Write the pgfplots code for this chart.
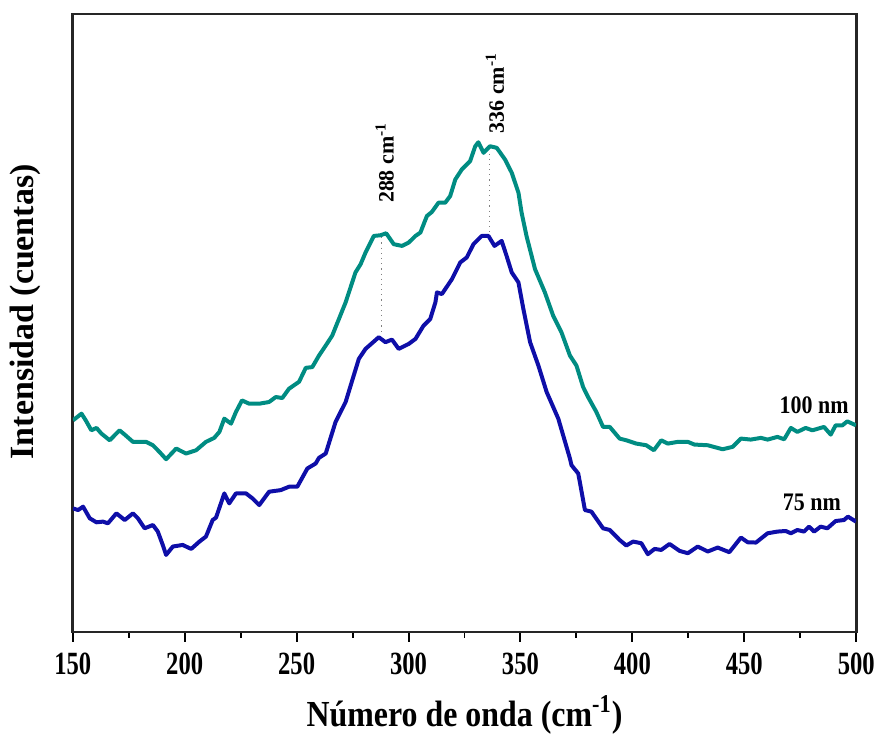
\documentclass[border=0pt]{standalone}
\usepackage{pgfplots}
\pgfplotsset{compat=1.18}
\usepackage{fontspec}
\setmainfont{Liberation Serif}
\definecolor{tealc}{RGB}{0,140,130}
\definecolor{bluec}{RGB}{14,14,168}
\begin{document}
\begin{tikzpicture}
\begin{axis}[
  scale only axis, width=393pt, height=310pt,
  xmin=150, xmax=500, ymin=-2, ymax=618,
  axis line style={line width=1.3pt, black!85},
  xtick={150,200,...,500}, minor x tick num=1,
  xtick pos=bottom, tick align=outside,
  major tick length=5pt, minor tick length=3pt,
  every tick/.style={black, line width=1pt},
  ytick=\empty,
  /pgf/number format/assume math mode=true,
  xticklabel style={font=\fontsize{13}{15}\selectfont\bfseries, yscale=1.25, xscale=0.95, yshift=-1pt},
  xlabel={N\'umero de onda (cm\textsuperscript{-1})},
  ylabel={Intensidad (cuentas)},
  xlabel style={font=\fontsize{16}{18}\selectfont\bfseries, yscale=1.15, at={(axis description cs:0.5,-0.134)}, anchor=center},
  ylabel style={font=\fontsize{17}{19}\selectfont\bfseries, at={(axis description cs:-0.06,0.518)}, anchor=center, rotate=0},
  clip=true,
]
\addplot[tealc, line width=2pt, line join=round] coordinates {
(150.1,210.3)(153.9,217)(155.8,210.3)(158.3,200.3)(160.6,202.7)(162.8,197)(166.5,190.3)(170.9,200.3)(173.2,196)(176.9,188.7)(182.8,188.7)(185.8,185.3)(188.7,178.7)(191.7,171.3)(196.2,182)(200.6,177)(205.1,180.3)(209.5,188.7)(213.2,192.7)(215.5,198.7)(217.7,212)(220.7,207)(222.9,218.7)(225.6,230.3)(228.8,227)(233.3,227)(237.7,228.7)(240.7,233.7)(243.6,232.7)(246.6,242)(251.1,249)(254.1,263)(257.0,263.7)(260.0,275.3)(263.0,285.3)(265.9,295.3)(271.9,328.7)(276.3,358.7)(278.6,367)(280.8,378.7)(284.5,395.3)(287.5,396)(290.0,398)(293.4,387)(297.1,385.3)(300.1,388.7)(303.1,395.3)(305.3,398.7)(308.2,415.3)(310.4,419.3)(313.4,428.7)(316.4,428.7)(318.6,435.3)(320.9,452)(323.8,462)(327.5,470.3)(329.8,485.3)(331.2,489.3)(333.5,478.7)(336.4,485.3)(339.4,483.7)(343.1,472)(346.1,458.7)(349.1,438.7)(350.5,418.7)(352.7,395.3)(356.5,362)(360.9,338.7)(364.6,315.3)(368.3,298.7)(372.1,275.3)(375.0,265.3)(378.0,243.7)(380.2,233.7)(383.9,218.7)(386.9,203.7)(389.9,203.7)(394.3,192)(397.3,190.3)(401.7,187)(406.2,185.3)(409.6,180.3)(412.9,190.3)(415.8,187)(420.3,188.7)(424.8,188.7)(427.7,186)(433.7,185.3)(440.3,181.3)(444.8,183.7)(448.5,192)(452.9,191)(457.4,192.7)(460.4,191)(464.8,193.7)(467.8,191.3)(470.8,202.7)(473.7,198.7)(477.4,202.7)(480.4,200.3)(485.6,203.7)(488.6,196)(490.8,205.3)(493.8,205.3)(496.0,209.3)(499.9,205.3)
};
\addplot[bluec, line width=2pt, line join=round] coordinates {
(150.1,122)(152.4,120.3)(154.6,123.7)(157.6,112)(160.6,108)(163.5,108.7)(165.7,107)(169.5,117)(173.2,110.3)(176.9,117)(179.1,112)(182.1,102)(185.8,105.3)(188.0,98.7)(190.2,85.3)(191.7,75.3)(194.7,83.7)(199.1,85.3)(202.9,81.3)(206.6,88.7)(209.5,93.7)(212.5,110.3)(214.0,112.7)(217.7,137)(219.9,127)(222.9,137)(227.4,137)(230.3,132)(233.3,125.3)(237.7,138.7)(242.9,140.3)(246.6,143.7)(250.3,143.7)(254.8,162)(258.5,167)(260.0,172.7)(263.0,177)(267.4,208.7)(271.9,228.7)(275.2,253)(277.8,272)(280.8,282)(286.7,293.7)(289.7,288.7)(292.6,291.3)(295.6,282)(300.1,287)(303.1,292)(306.7,305.3)(309.7,312)(312.0,328.7)(312.7,338.7)(314.9,337)(317.9,347)(319.4,352)(323.1,368.7)(326.0,373.7)(329.0,387)(332.7,395.3)(335.7,395.3)(338.4,385.3)(341.6,390.3)(343.8,375.3)(346.1,358.7)(349.1,348.7)(351.3,322)(354.3,288.7)(358.0,265.3)(361.7,238.7)(366.9,212)(372.1,172)(372.8,165.3)(375.8,157)(376.5,148.7)(378.8,120.3)(381.7,118.7)(386.9,102)(389.9,100.3)(394.3,90.3)(397.3,84.7)(400.3,88.7)(404.0,87)(406.9,76)(409.9,81.3)(412.9,80.3)(416.6,86.3)(421.1,79.3)(424.8,77)(429.2,83.7)(433.7,78.7)(438.1,82.7)(443.3,78)(448.5,92.7)(451.5,88)(455.2,87.7)(460.4,97)(464.8,98.7)(468.5,99.3)(470.8,97)(473.7,100.3)(476.7,98.7)(478.9,103.7)(481.2,98.7)(484.1,103.7)(487.1,102)(490.8,109.3)(494.5,110.3)(496.3,113.7)(499.9,108.7)
};
\addplot[gray, dotted, line width=0.6pt] coordinates {(288,394)(288,296)};
\addplot[gray, dotted, line width=0.6pt] coordinates {(336,478)(336,399)};
\node[rotate=90, anchor=west, font=\fontsize{11}{13}\selectfont\bfseries, inner sep=1pt] at (axis cs:289.3,426) {288 cm\textsuperscript{-1}};
\node[rotate=90, anchor=west, font=\fontsize{11}{13}\selectfont\bfseries, inner sep=1pt] at (axis cs:338.6,496) {336 cm\textsuperscript{-1}};
\node[font=\fontsize{11}{13}\selectfont\bfseries, yscale=1.15, anchor=center] at (axis cs:481.2,225) {100 nm};
\node[font=\fontsize{11}{13}\selectfont\bfseries, yscale=1.15, anchor=center] at (axis cs:480.2,128) {75 nm};
\end{axis}
\path[use as bounding box] ([xshift=-36.5pt, yshift=-49pt]current axis.south west) rectangle ([xshift=11pt, yshift=7pt]current axis.north east);
\end{tikzpicture}
\end{document}
